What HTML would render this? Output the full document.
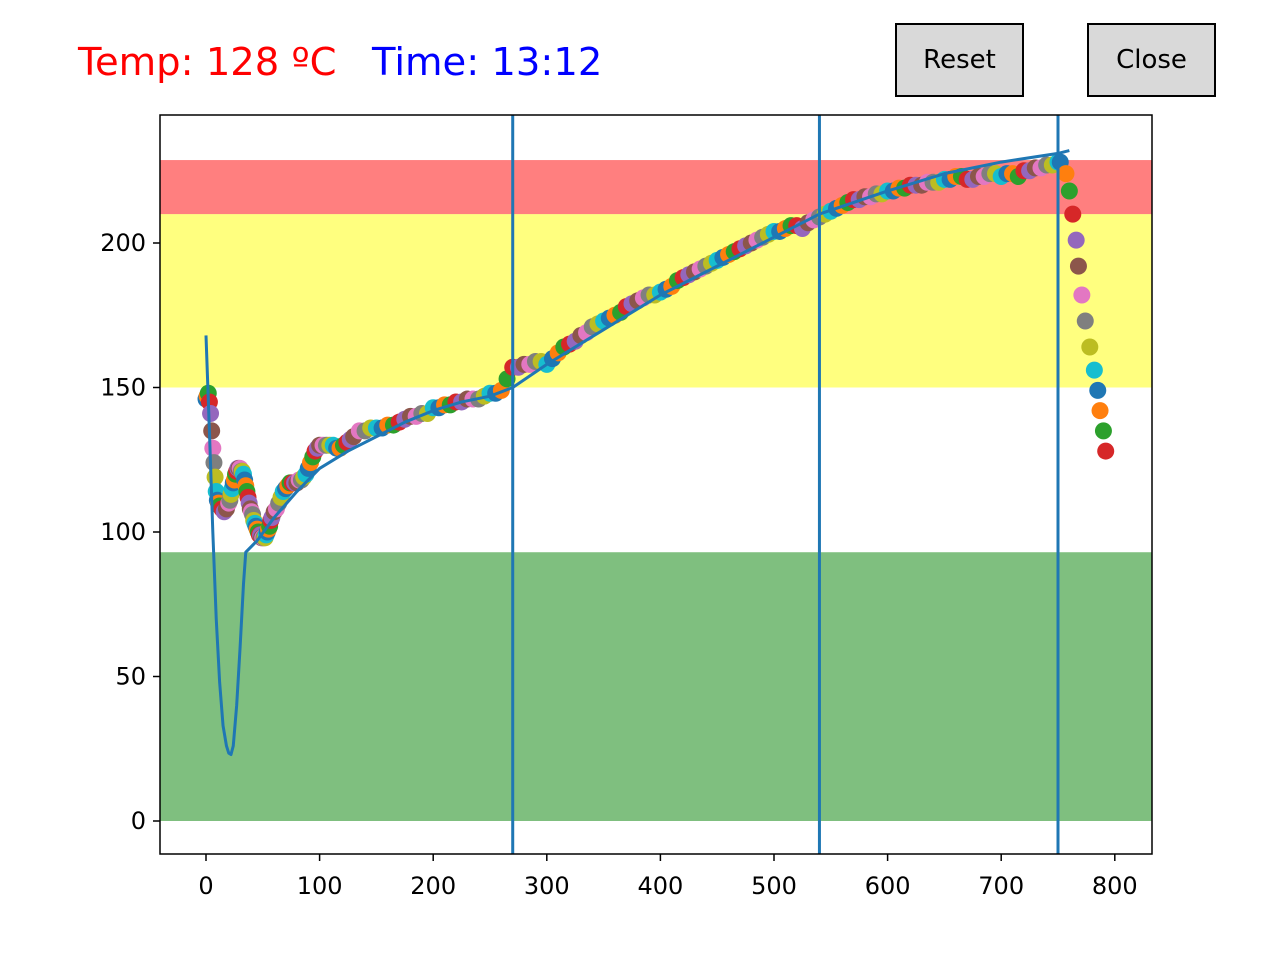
<!DOCTYPE html>
<html><head><meta charset="utf-8"><style>
body{margin:0;background:#fff;width:1280px;height:960px;overflow:hidden;font-family:"DejaVu Sans","Liberation Sans",sans-serif}
.btn{position:absolute;top:23px;width:125px;height:70px;border:2px solid #000;background:#d9d9d9;font-size:26px;display:flex;align-items:center;justify-content:center}
.t{position:absolute;top:40px;font-size:38.5px}
</style></head><body>
<div class="t" style="left:78px;color:#f00">Temp: 128 ºC</div>
<div class="t" style="left:372px;color:#00f">Time: 13:12</div>
<div class="btn" style="left:895px">Reset</div>
<div class="btn" style="left:1087px">Close</div>
<svg id="c" width="1280" height="960" style="position:absolute;left:0;top:0"></svg>
<script>
const scatterX=[0,1,2,3,4,5,6,7,8,9,10,11,12,14,16,18,20,21,22,23,24,25,26,27,28,29,30,31,32,33,34,35,36,37,38,39,40,41,42,43,44,45,46,47,48,49,50,51,52,53,54,55,56,57,58,60,62,64,66,68,70,72,74,76,78,80,82,84,86,88,90,92,94,96,98,100,103,106,109,112,115,118,121,124,127,130,135,140,145,150,155,160,165,170,175,180,185,190,195,200,205,210,215,220,225,230,235,240,245,250,255,260,265,270,275,280,285,290,295,300,305,310,315,320,325,330,335,340,345,350,355,360,365,370,375,380,385,390,395,400,405,410,415,420,425,430,435,440,445,450,455,460,465,470,475,480,485,490,495,500,505,510,515,520,525,530,535,540,545,550,555,560,565,570,575,580,585,590,595,600,605,610,615,620,625,630,635,640,645,650,655,660,665,670,675,680,685,690,695,700,705,710,715,720,725,730,735,740,745,750,752,757,760,763,766,768,771,774,778,782,785,787,790,792];
const scatterY=[146,147,148,145,141,135,129,124,119,114,111,110,109,108,107,108,110,111,113,115,117,118,120,121,122,122,122,121,121,120,118,116,114,112,110,108,107,106,104,103,102,101,100,99,99,98,98,98,98,99,100,101,102,104,105,107,108,110,112,114,115,116,117,117,117,117,118,118,119,120,122,124,126,128,129,130,130,130,130,130,129,129,130,131,132,133,135,135,136,136,136,137,137,138,139,140,140,141,141,143,143,144,144,145,145,146,146,146,147,148,148,149,153,157,157,158,158,159,159,158,160,162,164,165,166,168,169,171,172,173,174,175,176,178,179,180,181,182,182,183,184,185,187,188,189,190,191,192,193,194,195,196,197,198,199,200,201,202,203,204,204,205,206,206,205,207,208,209,210,211,212,213,214,215,215,216,216,217,217,218,218,219,219,220,220,220,221,221,221,222,222,223,223,222,222,223,223,224,224,223,224,224,223,225,225,226,226,227,227,228,228,224,218,210,201,192,182,173,164,156,149,142,135,128];
const lineX=[0,3,6,9,12,15,18,20,22,24,27,30,33,35,45,60,80,100,125,150,175,200,225,250,270,300,350,400,450,500,540,600,650,700,750,760];
const lineY=[168,135,100,70,48,33,26,23.5,23,26,40,60,82,93,97,105,114,122,128,133,138,142,145,147,150,158,170,182,192,202,210,218,224,228,231,232];
const bands=[[0,93,'#008000'],[150,210,'#ffff00'],[210,228.7,'#ff0000']];
const vlines=[270,540,750];
const xTicks=[0,100,200,300,400,500,600,700,800];
const yTicks=[0,50,100,150,200];
const X=v=>206+1.136*v, Y=v=>821-2.89*v;
const L=160,R=1152,T=115,B=854,NS='http://www.w3.org/2000/svg';
const svg=document.getElementById('c');
function mk(t,a,p){const e=document.createElementNS(NS,t);for(const k in a)e.setAttribute(k,a[k]);(p||svg).appendChild(e);return e;}
bands.forEach(b=>{const r=mk('rect',{x:L,y:Y(b[1]),width:R-L,height:Y(b[0])-Y(b[1]),fill:b[2],'fill-opacity':0.5});

});
const pal=['#1f77b4','#ff7f0e','#2ca02c','#d62728','#9467bd','#8c564b','#e377c2','#7f7f7f','#bcbd22','#17becf'];
scatterX.forEach((x,i)=>{const c=mk('circle',{cx:X(x),cy:Y(scatterY[i]),r:8.5,fill:pal[i%10]});

});
const pl=mk('polyline',{points:lineX.map((x,i)=>X(x)+','+Y(lineY[i])).join(' '),fill:'none',stroke:'#1f77b4','stroke-width':3,'stroke-linejoin':'round'});


vlines.forEach(v=>{const l=mk('line',{x1:X(v),x2:X(v),y1:T,y2:B,stroke:'#1f77b4','stroke-width':3});

});
const fr=mk('rect',{x:L,y:T,width:R-L,height:B-T,fill:'none',stroke:'#000','stroke-width':1.5});


xTicks.forEach(v=>{mk('line',{x1:X(v),x2:X(v),y1:B,y2:B+7,stroke:'#000','stroke-width':1.5});
const t=mk('text',{x:X(v),y:B+40,'text-anchor':'middle','font-size':24});t.textContent=v;

});
yTicks.forEach(v=>{mk('line',{x1:L-7,x2:L,y1:Y(v),y2:Y(v),stroke:'#000','stroke-width':1.5});
const t=mk('text',{x:L-14,y:Y(v)+8,'text-anchor':'end','font-size':24});t.textContent=v;

});
</script>
</body></html>
